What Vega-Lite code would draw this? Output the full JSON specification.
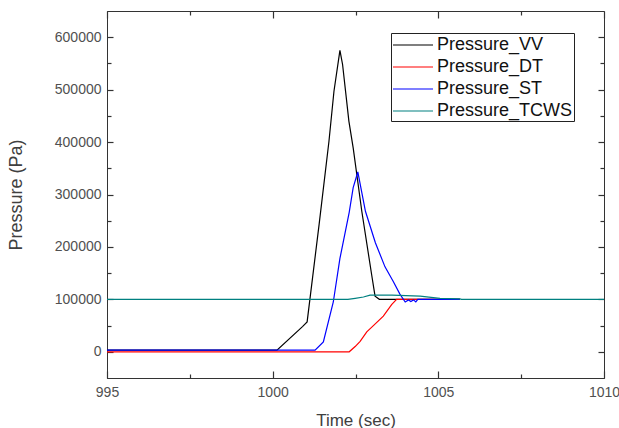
{
  "$schema": "https://vega.github.io/schema/vega-lite/v6.json",
  "width": 497,
  "height": 367,
  "autosize": "none",
  "padding": {"left": 107, "top": 11, "right": 15, "bottom": 50},
  "background": "white",
  "config": {
    "view": {"stroke": "#333", "strokeWidth": 1},
    "font": "Liberation Sans",
    "axis": {
      "domainColor": "#333",
      "labelColor": "#505050",
      "titleColor": "#404040",
      "labelFont": "Liberation Sans",
      "titleFont": "Liberation Sans",
      "titleFontWeight": "normal"
    }
  },
  "data": {
    "values": [
      {"series": "Pressure_VV", "t": 995, "p": 3000},
      {"series": "Pressure_VV", "t": 1000.13, "p": 3000},
      {"series": "Pressure_VV", "t": 1000.9, "p": 48000},
      {"series": "Pressure_VV", "t": 1001.04, "p": 57000},
      {"series": "Pressure_VV", "t": 1001.4, "p": 242000},
      {"series": "Pressure_VV", "t": 1001.7, "p": 402000},
      {"series": "Pressure_VV", "t": 1001.85, "p": 497000},
      {"series": "Pressure_VV", "t": 1002.03, "p": 575000},
      {"series": "Pressure_VV", "t": 1002.11, "p": 548000},
      {"series": "Pressure_VV", "t": 1002.2, "p": 497000},
      {"series": "Pressure_VV", "t": 1002.3, "p": 440000},
      {"series": "Pressure_VV", "t": 1002.43, "p": 389000},
      {"series": "Pressure_VV", "t": 1002.69, "p": 268000},
      {"series": "Pressure_VV", "t": 1002.99, "p": 146000},
      {"series": "Pressure_VV", "t": 1003.09, "p": 106000},
      {"series": "Pressure_VV", "t": 1003.22, "p": 100000},
      {"series": "Pressure_VV", "t": 1005.65, "p": 100000},
      {"series": "Pressure_DT", "t": 995, "p": 0},
      {"series": "Pressure_DT", "t": 1002.31, "p": 0},
      {"series": "Pressure_DT", "t": 1002.49, "p": 10000},
      {"series": "Pressure_DT", "t": 1002.64, "p": 20000},
      {"series": "Pressure_DT", "t": 1002.84, "p": 38000},
      {"series": "Pressure_DT", "t": 1003.04, "p": 50000},
      {"series": "Pressure_DT", "t": 1003.34, "p": 68000},
      {"series": "Pressure_DT", "t": 1003.59, "p": 90000},
      {"series": "Pressure_DT", "t": 1003.74, "p": 100000},
      {"series": "Pressure_DT", "t": 1005.65, "p": 100000},
      {"series": "Pressure_ST", "t": 995, "p": 3000},
      {"series": "Pressure_ST", "t": 1001.28, "p": 3000},
      {"series": "Pressure_ST", "t": 1001.53, "p": 19000},
      {"series": "Pressure_ST", "t": 1001.83, "p": 95000},
      {"series": "Pressure_ST", "t": 1002.03, "p": 178000},
      {"series": "Pressure_ST", "t": 1002.31, "p": 266000},
      {"series": "Pressure_ST", "t": 1002.43, "p": 313000},
      {"series": "Pressure_ST", "t": 1002.57, "p": 343000},
      {"series": "Pressure_ST", "t": 1002.8, "p": 268000},
      {"series": "Pressure_ST", "t": 1003.1, "p": 208000},
      {"series": "Pressure_ST", "t": 1003.39, "p": 162000},
      {"series": "Pressure_ST", "t": 1003.64, "p": 134000},
      {"series": "Pressure_ST", "t": 1003.84, "p": 110000},
      {"series": "Pressure_ST", "t": 1004.0, "p": 95000},
      {"series": "Pressure_ST", "t": 1004.1, "p": 99000},
      {"series": "Pressure_ST", "t": 1004.17, "p": 96000},
      {"series": "Pressure_ST", "t": 1004.25, "p": 99000},
      {"series": "Pressure_ST", "t": 1004.32, "p": 95000},
      {"series": "Pressure_ST", "t": 1004.38, "p": 100000},
      {"series": "Pressure_ST", "t": 1005.65, "p": 100000},
      {"series": "Pressure_TCWS", "t": 995, "p": 100000},
      {"series": "Pressure_TCWS", "t": 1002.27, "p": 100000},
      {"series": "Pressure_TCWS", "t": 1002.49, "p": 102000},
      {"series": "Pressure_TCWS", "t": 1002.74, "p": 104500},
      {"series": "Pressure_TCWS", "t": 1002.94, "p": 108000},
      {"series": "Pressure_TCWS", "t": 1003.6, "p": 108000},
      {"series": "Pressure_TCWS", "t": 1004.45, "p": 106000},
      {"series": "Pressure_TCWS", "t": 1005.05, "p": 102000},
      {"series": "Pressure_TCWS", "t": 1005.65, "p": 101000},
      {"series": "Pressure_TCWS", "t": 1005.7, "p": 100000},
      {"series": "Pressure_TCWS", "t": 1010, "p": 100000}
    ]
  },
  "layer": [
    {
      "mark": {"type": "point", "opacity": 0},
      "encoding": {
        "x": {
          "field": "t",
          "type": "quantitative",
          "axis": {
            "orient": "bottom", "title": null, "labels": false, "domain": false, "ticks": false,
            "grid": true, "gridColor": "#333", "gridOpacity": 1, "gridWidth": 1.2, "gridDash": [7, 2000],
            "values": [995, 1000, 1005, 1010]
          }
        },
        "y": {
          "field": "p",
          "type": "quantitative",
          "axis": {
            "orient": "left", "title": null, "labels": false, "domain": false, "ticks": false,
            "grid": true, "gridColor": "#333", "gridOpacity": 1, "gridWidth": 1.2, "gridDash": [6, 2000],
            "values": [0, 100000, 200000, 300000, 400000, 500000, 600000]
          }
        }
      }
    },
    {
      "mark": {"type": "point", "opacity": 0},
      "encoding": {
        "x": {
          "field": "t",
          "type": "quantitative",
          "axis": {
            "orient": "bottom", "title": null, "labels": false, "domain": false, "ticks": false,
            "grid": true, "gridColor": "#333", "gridOpacity": 1, "gridWidth": 1.2, "gridDash": [4, 2000],
            "values": [997.5, 1002.5, 1007.5]
          }
        },
        "y": {
          "field": "p",
          "type": "quantitative",
          "axis": {
            "orient": "left", "title": null, "labels": false, "domain": false, "ticks": false,
            "grid": true, "gridColor": "#333", "gridOpacity": 1, "gridWidth": 1.2, "gridDash": [4, 2000],
            "values": [50000, 150000, 250000, 350000, 450000, 550000]
          }
        }
      }
    },
    {
      "mark": {"type": "point", "opacity": 0},
      "encoding": {
        "x": {
          "field": "t",
          "type": "quantitative",
          "axis": {
            "orient": "top", "title": null, "labels": false, "domain": false, "ticks": false,
            "grid": true, "gridColor": "#333", "gridOpacity": 1, "gridWidth": 1.2, "gridDash": [7, 2000],
            "values": [995, 1000, 1005, 1010]
          }
        },
        "y": {
          "field": "p",
          "type": "quantitative",
          "axis": {
            "orient": "right", "title": null, "labels": false, "domain": false, "ticks": false,
            "grid": true, "gridColor": "#333", "gridOpacity": 1, "gridWidth": 1.2, "gridDash": [6, 2000],
            "values": [0, 100000, 200000, 300000, 400000, 500000, 600000]
          }
        }
      }
    },
    {
      "mark": {"type": "point", "opacity": 0},
      "encoding": {
        "x": {
          "field": "t",
          "type": "quantitative",
          "axis": {
            "orient": "top", "title": null, "labels": false, "domain": false, "ticks": false,
            "grid": true, "gridColor": "#333", "gridOpacity": 1, "gridWidth": 1.2, "gridDash": [4, 2000],
            "values": [997.5, 1002.5, 1007.5]
          }
        },
        "y": {
          "field": "p",
          "type": "quantitative",
          "axis": {
            "orient": "right", "title": null, "labels": false, "domain": false, "ticks": false,
            "grid": true, "gridColor": "#333", "gridOpacity": 1, "gridWidth": 1.2, "gridDash": [4, 2000],
            "values": [50000, 150000, 250000, 350000, 450000, 550000]
          }
        }
      }
    },
    {
      "mark": {"type": "line", "strokeWidth": 1.2, "clip": true},
      "encoding": {
        "x": {
          "field": "t",
          "type": "quantitative",
          "scale": {"domain": [995, 1010], "nice": false, "zero": false},
          "axis": {
            "title": "Time (sec)",
            "titleFontSize": 17,
            "titlePadding": 13,
            "values": [995, 1000, 1005, 1010],
            "format": "d",
            "labelFontSize": 14,
            "labelPadding": 7,
            "labelFlush": false,
            "ticks": false,
            "grid": false
          }
        },
        "y": {
          "field": "p",
          "type": "quantitative",
          "scale": {"domain": [-50000, 650000], "nice": false, "zero": false},
          "axis": {
            "title": "Pressure (Pa)",
            "titleFontSize": 18,
            "titlePadding": 29,
            "values": [0, 100000, 200000, 300000, 400000, 500000, 600000],
            "format": "d",
            "labelFontSize": 14,
            "labelPadding": 6,
            "ticks": false,
            "grid": false
          }
        },
        "color": {
          "field": "series",
          "type": "nominal",
          "scale": {
            "domain": ["Pressure_VV", "Pressure_DT", "Pressure_ST", "Pressure_TCWS"],
            "range": ["#000000", "#ff0000", "#0000ff", "#008080"]
          },
          "legend": {
            "title": null,
            "orient": "none",
            "legendX": 284,
            "legendY": 22,
            "symbolType": "M-1,0H3",
            "symbolSize": 400,
            "symbolStrokeWidth": 1.2,
            "labelFontSize": 18,
            "labelFont": "Liberation Sans",
            "labelColor": "#111",
            "labelOffset": 23,
            "labelLimit": 0,
            "padding": 1,
            "rowPadding": 2,
            "strokeColor": "#222",
            "fillColor": "white"
          }
        }
      }
    }
  ],
  "resolve": {"axis": {"x": "independent", "y": "independent"}}
}
